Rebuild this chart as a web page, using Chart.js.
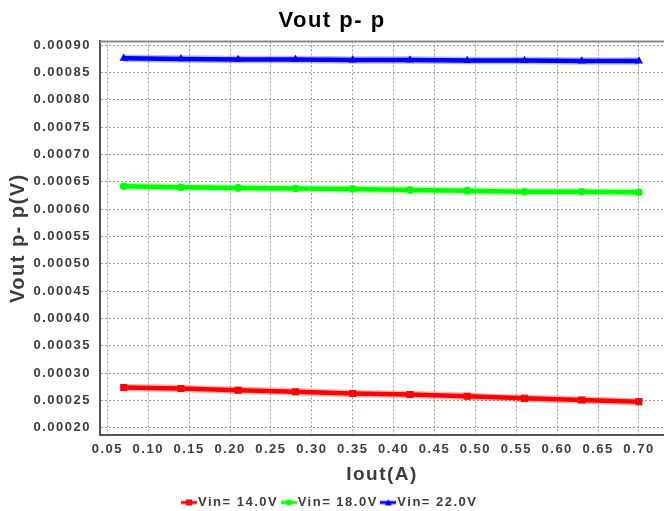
<!DOCTYPE html>
<html>
<head>
<meta charset="utf-8">
<title>Vout p- p</title>
<script src="https://cdn.jsdelivr.net/npm/chart.js@4/dist/chart.umd.min.js"></script>
<style>
  html, body { margin: 0; background: #fff; }
  canvas { display: block; }
</style>
</head>
<body>
<canvas id="cv" width="664" height="511"></canvas>
<script>
/* 輸出漣波 Vout p-p vs Iout，三種輸入電壓 */
const IOUT    = [0.07, 0.14, 0.21, 0.28, 0.35, 0.42, 0.49, 0.56, 0.63, 0.70];
const VPP_14  = [0.000274, 0.000272, 0.000269, 0.000266, 0.000263, 0.000261, 0.000258, 0.000254, 0.000251, 0.000248];
const VPP_18  = [0.000642, 0.000640, 0.000639, 0.000638, 0.000637, 0.000635, 0.000634, 0.000632, 0.000632, 0.000631];
const VPP_22  = [0.000876, 0.000875, 0.000874, 0.000874, 0.000873, 0.000873, 0.000872, 0.000872, 0.000871, 0.000871];
const SERIES  = ['Vin= 14.0V', 'Vin= 18.0V', 'Vin= 22.0V'];
const X_TICKS = [0.05, 0.10, 0.15, 0.20, 0.25, 0.30, 0.35, 0.40, 0.45, 0.50, 0.55, 0.60, 0.65, 0.70];
const Y_TICKS = [0.00020, 0.00025, 0.00030, 0.00035, 0.00040, 0.00045, 0.00050,
                 0.00055, 0.00060, 0.00065, 0.00070, 0.00075, 0.00080, 0.00085, 0.00090];

const COLS   = ['#ff0000', '#00ff00', '#0000ff'];
const HALO   = ['rgba(255,0,0,.28)', 'rgba(0,255,0,.28)', 'rgba(0,0,255,.28)'];
const STYLES = ['rect', 'circle', 'triangle'];
const RADII  = [5, 3.8, 4.8];
const FONT   = '"Liberation Sans", Arial, sans-serif';
const INK    = '#3c3c3c';

const pts = ys => IOUT.map((x, i) => ({x, y: ys[i]}));
const SETS = [VPP_14, VPP_18, VPP_22];

// 圖例小圖示：線段 + 標記
function legendIcon(col, style){
  const c = document.createElement('canvas'); c.width = 16; c.height = 8;
  const g = c.getContext('2d');
  g.strokeStyle = col; g.fillStyle = col; g.lineWidth = 3;
  g.beginPath(); g.moveTo(0, 4); g.lineTo(16, 4); g.stroke();
  g.beginPath();
  if (style === 'rect') g.rect(5, 1, 6, 6);
  else if (style === 'circle') g.arc(8, 4, 3, 0, Math.PI*2);
  else { g.moveTo(8, 0.5); g.lineTo(11.5, 7); g.lineTo(4.5, 7); g.closePath(); }
  g.fill();
  return c;
}
const ICONS = COLS.map((c, i) => legendIcon(c, STYLES[i]));

const mainLine = i => ({
  label: SERIES[i], data: pts(SETS[i]),
  borderColor: COLS[i], backgroundColor: COLS[i], borderWidth: 4.5,
  pointStyle: STYLES[i], pointRadius: RADII[i], pointBorderWidth: 0,
  pointBackgroundColor: COLS[i], tension: 0
});
const haloLine = i => ({
  label: '', data: pts(SETS[i]),
  borderColor: HALO[i], borderWidth: 7.5, pointRadius: 0, tension: 0
});

// 字距 + 上框線
const spacing = {id: 'spacing',
  beforeLayout(c){ c.ctx.letterSpacing = '1.5px'; },
  beforeDraw(c){ c.ctx.letterSpacing = '1.5px'; }};
const topEdge = {id: 'topEdge', beforeDatasetsDraw(c){
  const {ctx, chartArea: {left, right, top}} = c;
  ctx.save(); ctx.strokeStyle = '#8a8a8a'; ctx.lineWidth = 2;
  ctx.beginPath(); ctx.moveTo(left, top); ctx.lineTo(right, top); ctx.stroke(); ctx.restore();
}};

new Chart(document.getElementById('cv'), {
  type: 'line',
  data: { datasets: [mainLine(0), mainLine(1), mainLine(2), haloLine(0), haloLine(1), haloLine(2)] },
  options: {
    responsive: false, animation: false, devicePixelRatio: 1,
    layout: { autoPadding: false, padding: { top: 0, left: 0, right: 0, bottom: -8 } },
    plugins: {
      tooltip: { enabled: false },
      title: { display: true, text: 'Vout p- p', color: '#000',
               font: { family: FONT, size: 22, weight: 'bold' }, padding: { top: 8, bottom: 7 } },
      legend: { position: 'bottom',
        labels: { usePointStyle: true, pointStyleWidth: 5, padding: 8, color: INK,
          font: { family: FONT, size: 13, weight: 'bold' },
          generateLabels: () => SERIES.map((t, i) => ({
            text: t, pointStyle: ICONS[i], fillStyle: COLS[i], strokeStyle: COLS[i],
            lineWidth: 0, fontColor: INK, hidden: false, datasetIndex: i })) } }
    },
    scales: {
      x: { type: 'linear', min: 0.041, max: 0.7306,
        afterBuildTicks: s => { s.ticks = X_TICKS.map(v => ({value: v})); },
        afterFit: s => { s.height = 53; s.paddingLeft = 0; s.paddingRight = 0; },
        ticks: { color: INK, padding: 7, maxRotation: 0, autoSkip: false,
                 font: { family: FONT, size: 13, weight: 'bold' }, callback: v => v.toFixed(2) },
        grid: { color: '#9a9a9a', lineWidth: 1, drawTicks: false },
        border: { color: '#555', width: 2, dash: [2, 2] },
        title: { display: true, text: 'Iout(A)', color: INK, padding: { top: 0, bottom: 2 },
                 font: { family: FONT, size: 19, weight: 'bold' } } },
      y: { type: 'linear', min: 0.000187, max: 0.000907,
        afterBuildTicks: s => { s.ticks = Y_TICKS.map(v => ({value: v})); },
        afterFit: s => { s.width = 100; s.paddingTop = 0; s.paddingBottom = 0; },
        ticks: { color: INK, padding: 9, autoSkip: false,
                 font: { family: FONT, size: 13, weight: 'bold' }, callback: v => v.toFixed(5) },
        grid: { color: '#9a9a9a', lineWidth: 1, drawTicks: false },
        border: { color: '#555', width: 2, dash: [2, 2] },
        title: { display: true, text: 'Vout p- p(V)', color: INK, padding: { top: 6, bottom: 0 },
                 font: { family: FONT, size: 20, weight: 'bold' } } }
    }
  },
  plugins: [spacing, topEdge]
});
</script>
</body>
</html>
